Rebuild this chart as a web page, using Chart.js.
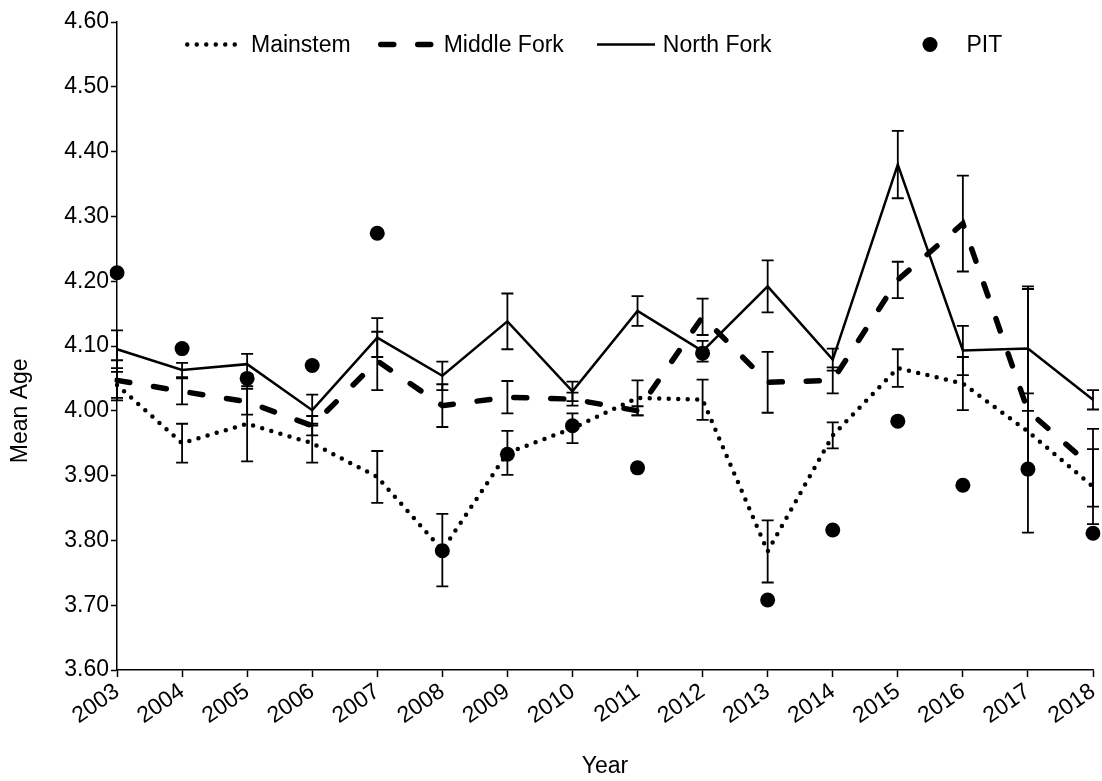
<!DOCTYPE html>
<html><head><meta charset="utf-8">
<script src="https://cdn.jsdelivr.net/npm/chart.js@4.4.1/dist/chart.umd.min.js"></script>
<style>
html,body{margin:0;padding:0;background:#fff}
#wrap{position:relative;width:1102px;height:781px}
#legend{position:absolute;left:185px;top:31px;display:flex;align-items:center;height:27px;
  font-family:'Liberation Sans',Arial,sans-serif;font-size:23px;color:#000;white-space:nowrap}
#legend .item{display:flex;align-items:center}
#legend .item span{margin-left:8px;line-height:27px}
#legend .item:nth-child(1){margin-right:27px}
#legend .item:nth-child(2){margin-right:33px}
#legend .item:nth-child(3){margin-right:129px}
</style>
</head><body><div id="wrap"><canvas id="c" width="1102" height="781"></canvas><div id="legend"></div></div>
<script>
const years = ['2003','2004','2005','2006','2007','2008','2009','2010','2011','2012','2013','2014','2015','2016','2017','2018'];
const mainstem = [4.040, 3.950, 3.980, 3.950, 3.898, 3.785, 3.935, 3.973, 4.020, 4.017, 3.783, 3.962, 4.066, 4.042, 3.968, 3.883];
const mainstemErr = [0.020, 0.030, 0.058, 0.030, 0.040, 0.056, 0.034, 0.023, 0.027, 0.031, 0.048, 0.020, 0.029, 0.041, 0.059, 0.058];
const middleFork = [4.047, 4.030, 4.014, 3.977, 4.077, 4.008, 4.021, 4.018, 4.000, 4.145, 4.044, 4.047, 4.202, 4.289, 4.000, 3.912];
const middleForkErr = [0.031, 0.020, 0.020, 0.015, 0.045, 0.033, 0.025, 0.010, 0.007, 0.028, 0.047, 0.020, 0.028, 0.074, 0.188, 0.060];
const northFork = [4.095, 4.063, 4.072, 4.001, 4.113, 4.054, 4.138, 4.030, 4.154, 4.092, 4.192, 4.079, 4.380, 4.093, 4.096, 4.017];
const northForkErr = [0.029, 0.011, 0.016, 0.024, 0.030, 0.022, 0.043, 0.015, 0.023, 0.016, 0.040, 0.017, 0.052, 0.038, 0.096, 0.015];
const pit = [4.213, 4.096, 4.050, 4.070, 4.274, 3.784, 3.933, 3.977, 3.912, 4.089, 3.708, 3.816, 3.984, 3.885, 3.910, 3.811];
const yTitle = 'Mean Age';

const FONT = "'Liberation Sans', Arial, sans-serif";
const FS = 23;
Chart.defaults.font.family = FONT;
Chart.defaults.font.size = FS;
Chart.defaults.color = '#000';

const errorBarPlugin = {
  id: 'errorBars',
  afterDatasetsDraw(chart) {
    const {ctx, scales: {x, y}} = chart;
    ctx.save();
    ctx.strokeStyle = '#000';
    ctx.lineWidth = 1.8;
    ctx.setLineDash([]);
    ctx.lineCap = 'butt';
    chart.data.datasets.forEach((ds) => {
      if (!ds.errors) return;
      ds.data.forEach((v, j) => {
        const e = ds.errors[j];
        const px = x.getPixelForValue(j);
        const top = y.getPixelForValue(v + e);
        const bot = y.getPixelForValue(v - e);
        ctx.beginPath();
        ctx.moveTo(px, top); ctx.lineTo(px, bot);
        ctx.moveTo(px - 6, top); ctx.lineTo(px + 6, top);
        ctx.moveTo(px - 6, bot); ctx.lineTo(px + 6, bot);
        ctx.stroke();
      });
    });
    ctx.restore();
  }
};

const yTitlePlugin = {
  id: 'yTitle',
  afterDraw(chart) {
    const {ctx, chartArea} = chart;
    const cy = chartArea.top + (chartArea.bottom - chartArea.top) * 0.6;
    ctx.save();
    ctx.translate(21, cy);
    ctx.rotate(-Math.PI / 2);
    ctx.font = FS + 'px ' + FONT;
    ctx.fillStyle = '#000';
    ctx.textAlign = 'center';
    ctx.textBaseline = 'middle';
    ctx.fillText(yTitle, 0, 0);
    ctx.restore();
  }
};

const htmlLegendPlugin = {
  id: 'htmlLegend',
  afterUpdate(chart) {
    const box = document.getElementById('legend');
    box.innerHTML = '';
    const NS = 'http://www.w3.org/2000/svg';
    chart.data.datasets.forEach((ds) => {
      const item = document.createElement('div');
      item.className = 'item';
      const svg = document.createElementNS(NS, 'svg');
      svg.setAttribute('width', '58'); svg.setAttribute('height', '27');
      if (ds.showLine === false) {
        const c = document.createElementNS(NS, 'circle');
        c.setAttribute('cx', '29'); c.setAttribute('cy', '13.5'); c.setAttribute('r', String(ds.pointRadius));
        c.setAttribute('fill', ds.pointBackgroundColor);
        svg.appendChild(c);
      } else {
        const l = document.createElementNS(NS, 'line');
        const cap = ds.borderCapStyle === 'round' ? ds.borderWidth / 2 : 0;
        l.setAttribute('x1', String(cap)); l.setAttribute('x2', String(58 - cap));
        l.setAttribute('y1', '13.5'); l.setAttribute('y2', '13.5');
        l.setAttribute('stroke', ds.borderColor);
        l.setAttribute('stroke-width', String(ds.borderWidth));
        if (ds.borderDash) l.setAttribute('stroke-dasharray', ds.borderDash.join(' '));
        l.setAttribute('stroke-linecap', ds.borderCapStyle || 'butt');
        svg.appendChild(l);
      }
      const t = document.createElement('span');
      t.textContent = ds.label;
      item.appendChild(svg); item.appendChild(t);
      box.appendChild(item);
    });
  }
};

new Chart(document.getElementById('c'), {
  type: 'line',
  data: {
    labels: years,
    datasets: [
      { label: 'Mainstem', data: mainstem, errors: mainstemErr, borderColor: '#000', backgroundColor: '#000',
        borderWidth: 4.5, borderDash: [0, 9.5], borderCapStyle: 'round', pointRadius: 0, tension: 0 },
      { label: 'Middle Fork', data: middleFork, errors: middleForkErr, borderColor: '#000', backgroundColor: '#000',
        borderWidth: 5.5, borderDash: [13, 24], borderCapStyle: 'round', pointRadius: 0, tension: 0 },
      { label: 'North Fork', data: northFork, errors: northForkErr, borderColor: '#000', backgroundColor: '#000',
        borderWidth: 2.5, pointRadius: 0, tension: 0 },
      { label: 'PIT', data: pit, showLine: false, borderColor: '#000', backgroundColor: '#000',
        pointRadius: 7.5, pointBackgroundColor: '#000', pointBorderWidth: 0, pointHoverRadius: 7.5 }
    ]
  },
  options: {
    responsive: false,
    animation: false,
    devicePixelRatio: 1,
    layout: { padding: { top: 22, right: 9, left: 0, bottom: 0 } },
    plugins: {
      tooltip: { enabled: false },
      legend: { display: false }
    },
    scales: {
      x: {
        afterFit(scale) { scale.height = 111; scale.paddingRight = 0; },
        grid: { display: true, drawOnChartArea: false, drawTicks: true, tickLength: 7, tickColor: '#000', tickWidth: 1.5 },
        border: { display: true, color: '#000', width: 1.5 },
        ticks: { minRotation: 35, maxRotation: 35, padding: 1, font: { size: FS }, color: '#000', autoSkip: false },
        title: { display: true, text: 'Year', font: { size: FS }, color: '#000', padding: { top: 2, bottom: 1 } }
      },
      y: {
        min: 3.6, max: 4.6,
        afterFit(scale) { scale.width = 117; },
        grid: { display: true, drawOnChartArea: false, drawTicks: true, tickLength: 6, tickColor: '#000', tickWidth: 1.5 },
        border: { display: true, color: '#000', width: 1.5 },
        ticks: { stepSize: 0.1, padding: 2, font: { size: FS }, color: '#000', callback: (v) => Number(v).toFixed(2) },
        title: { display: false }
      }
    }
  },
  plugins: [errorBarPlugin, yTitlePlugin, htmlLegendPlugin]
});
</script>
</body></html>
